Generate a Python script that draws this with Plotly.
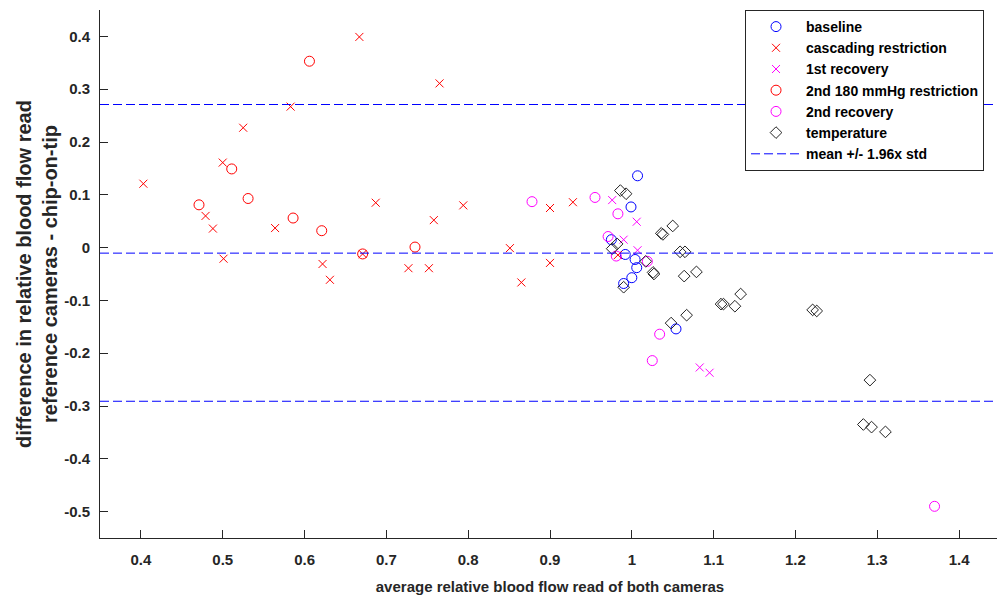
import plotly.graph_objects as go

# ---------------- data ----------------
baseline_x = [1.007, 0.999, 0.975, 0.992, 1.004, 1.006, 1.000, 0.990, 1.054]
baseline_y = [0.136, 0.077, 0.015, -0.013, -0.0225, -0.038, -0.057, -0.068, -0.154]

cascade_x = [0.403, 0.479, 0.488, 0.500, 0.501, 0.525, 0.564, 0.583, 0.622, 0.631,
             0.667, 0.671, 0.687, 0.727, 0.752, 0.758, 0.765, 0.794, 0.851, 0.865,
             0.900, 0.900, 0.928, 0.983]
cascade_y = [0.121, 0.060, 0.036, 0.161, -0.021, 0.227, 0.037, 0.267, -0.031, -0.061,
             0.399, -0.012, 0.085, -0.039, -0.039, 0.052, 0.311, 0.080, -0.001, -0.066,
             -0.029, 0.075, 0.086, -0.014]

rec1_x = [0.976, 1.006, 0.990, 1.007, 1.083, 1.095]
rec1_y = [0.090, 0.049, 0.015, -0.005, -0.227, -0.237]

restr2_x = [0.471, 0.511, 0.531, 0.586, 0.606, 0.621, 0.671, 0.735]
restr2_y = [0.081, 0.149, 0.093, 0.056, 0.353, 0.032, -0.012, 0.001]

rec2_x = [0.878, 0.955, 0.983, 0.971, 0.981, 1.019, 1.034, 1.025, 1.370]
rec2_y = [0.087, 0.095, 0.064, 0.021, -0.016, -0.026, -0.164, -0.214, -0.490]

temp_x = [0.986, 0.993, 1.050, 1.038, 1.036, 0.982, 0.976, 1.059, 1.065, 1.017,
          1.027, 1.026, 1.064, 1.079, 0.990, 1.109, 1.112, 1.126, 1.133, 1.067,
          1.048, 1.221, 1.226, 1.291, 1.283, 1.293, 1.310]
temp_y = [0.108, 0.102, 0.041, 0.025, 0.027, 0.007, -0.002, -0.008, -0.008, -0.026,
          -0.050, -0.047, -0.054, -0.046, -0.075, -0.107, -0.107, -0.111, -0.088, -0.128,
          -0.143, -0.118, -0.120, -0.251, -0.335, -0.340, -0.349]

limit_levels = [0.271, -0.0105, -0.291]   # mean + 1.96 std, mean, mean - 1.96 std

x_range = [0.35, 1.45]
y_range = [-0.55, 0.45]
x_tickvals = [0.4, 0.5, 0.6, 0.7, 0.8, 0.9, 1.0, 1.1, 1.2, 1.3, 1.4]
x_ticktext = ["0.4", "0.5", "0.6", "0.7", "0.8", "0.9", "1", "1.1", "1.2", "1.3", "1.4"]
y_tickvals = [0.4, 0.3, 0.2, 0.1, 0.0, -0.1, -0.2, -0.3, -0.4, -0.5]
y_ticktext = ["0.4", "0.3", "0.2", "0.1", "0", "-0.1", "-0.2", "-0.3", "-0.4", "-0.5"]

names = ["baseline", "cascading restriction", "1st recovery",
         "2nd 180 mmHg restriction", "2nd recovery", "temperature",
         "mean +/- 1.96x std"]

# ---------------- figure ----------------
FONT = "Liberation Sans, Arial, Helvetica, sans-serif"
AX = "#262626"

fig = go.Figure()

def add_markers(x, y, name, symbol, color, size):
    fig.add_trace(go.Scatter(
        x=x, y=y, mode="markers", name=name,
        marker=dict(symbol=symbol, size=size, color=color,
                    line=dict(color=color, width=1)),
    ))

add_markers(baseline_x, baseline_y, names[0], "circle-open", "#0000ff", 10)
add_markers(cascade_x, cascade_y, names[1], "x-thin-open", "#ff0000", 8)
add_markers(rec1_x, rec1_y, names[2], "x-thin-open", "#ff00ff", 8)
add_markers(restr2_x, restr2_y, names[3], "circle-open", "#ff0000", 10)
add_markers(rec2_x, rec2_y, names[4], "circle-open", "#ff00ff", 10)
add_markers(temp_x, temp_y, names[5], "diamond-open", "#222222", 9)

line_x, line_y = [], []
for lv in limit_levels:
    line_x += [x_range[0], x_range[1], None]
    line_y += [lv, lv, None]
fig.add_trace(go.Scatter(
    x=line_x, y=line_y, mode="lines", name=names[6],
    line=dict(color="#0000ff", width=1, dash="9px,4px"),
))

# the page body has an 8px default margin, so the figure is 8px smaller
fig.update_layout(
    width=997, height=587,
    margin=dict(l=92, r=5, t=2, b=57, autoexpand=False),
    paper_bgcolor="white", plot_bgcolor="white",
    font=dict(family=FONT, size=15, color=AX, weight="bold"),
    showlegend=True,
    legend=dict(
        x=0.7167, y=1.0, xanchor="left", yanchor="top",
        bgcolor="white", bordercolor=AX, borderwidth=1,
        font=dict(family=FONT, size=14, color="#000000", weight="bold"),
        itemwidth=50, entrywidth=212, entrywidthmode="pixels",
    ),
    xaxis=dict(
        range=x_range, tickvals=x_tickvals, ticktext=x_ticktext,
        ticks="inside", ticklen=8, tickcolor=AX, tickwidth=1,
        showline=True, linecolor=AX, linewidth=1, mirror=False,
        showgrid=False, zeroline=False, ticklabelstandoff=8, automargin=False,
        tickfont=dict(size=15, color=AX, weight="bold"),
        title=dict(text="average relative blood flow read of both cameras",
                   font=dict(size=15, color=AX, weight="bold"), standoff=14),
    ),
    yaxis=dict(
        range=y_range, tickvals=y_tickvals, ticktext=y_ticktext,
        ticks="inside", ticklen=8, tickcolor=AX, tickwidth=1,
        showline=True, linecolor=AX, linewidth=1, mirror=False,
        showgrid=False, zeroline=False, ticklabelstandoff=6, automargin=False,
        tickfont=dict(size=15, color=AX, weight="bold"),
        title=dict(text="difference in relative blood flow read<br>reference cameras - chip-on-tip",
                   font=dict(size=20, color=AX, weight="bold"), standoff=1),
    ),
)

fig.write_html("out.html")
